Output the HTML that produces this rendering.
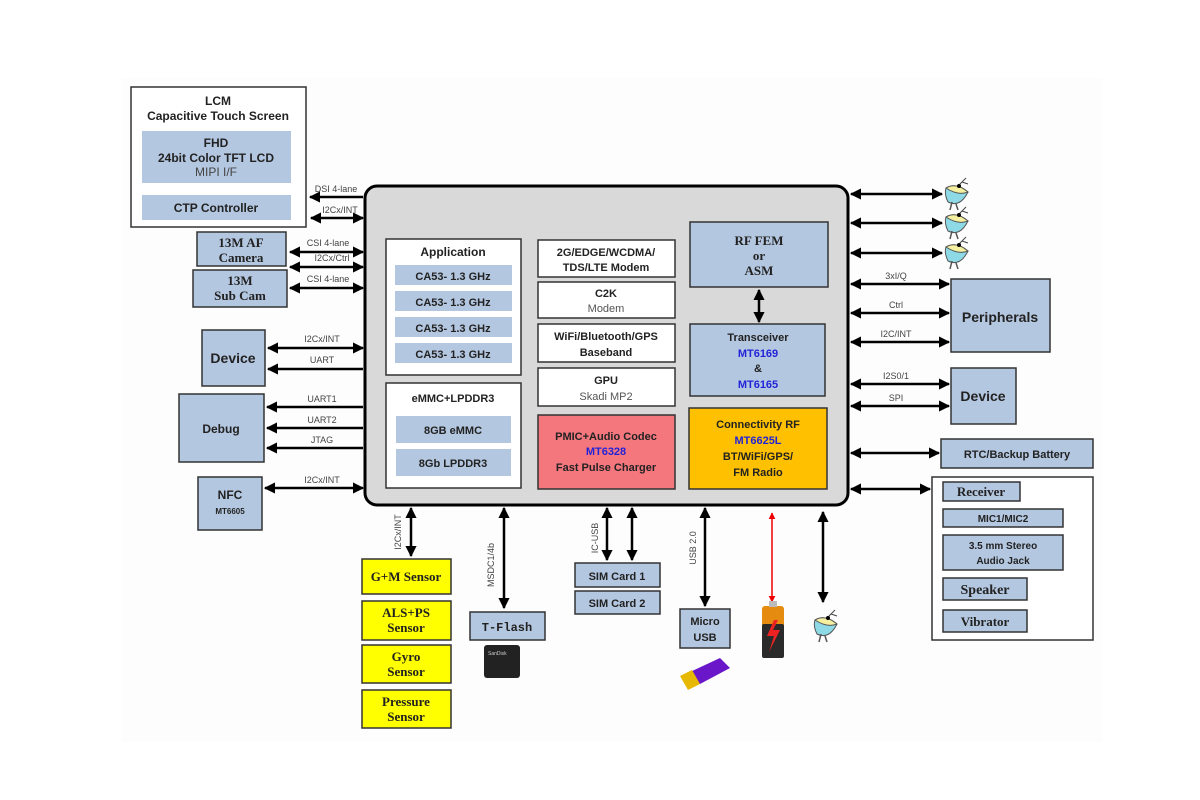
<!DOCTYPE html>
<html><head><meta charset="utf-8"><style>
html,body{margin:0;padding:0;background:#fff;}
svg{display:block;}
</style></head><body>
<svg width="1200" height="800" viewBox="0 0 1200 800" xmlns="http://www.w3.org/2000/svg" font-family="Liberation Sans, sans-serif">
<defs>
<marker id="a" viewBox="0 0 10 10" refX="9" refY="5" markerWidth="4.5" markerHeight="4.5" orient="auto-start-reverse"><path d="M0,0L10,5L0,10z" fill="#000"/></marker>
<marker id="r" viewBox="0 0 10 10" refX="9" refY="5" markerWidth="4.5" markerHeight="4.5" orient="auto-start-reverse"><path d="M0,0L10,5L0,10z" fill="#e00"/></marker>
<g id="ant">
<line x1="14" y1="6" x2="22" y2="-2" stroke="#444" stroke-width="1"/>
<line x1="18" y1="2" x2="24" y2="4" stroke="#444" stroke-width="1"/>
<path d="M2,8 Q12,2 24,12 Q16,28 4,22 Q0,14 2,8z" fill="#8dd9e6" stroke="#555" stroke-width="1"/>
<path d="M2,8 Q12,2 24,12 Q14,16 2,8z" fill="#f4f0a0" stroke="#555" stroke-width="1"/>
<circle cx="15" cy="6" r="2" fill="#000"/>
<path d="M8,22 L6,30 M12,24 L14,30" stroke="#555" stroke-width="1.5" fill="none"/>
</g>
</defs>
<rect x="122" y="78" width="980" height="664" fill="#fdfdfd"/>

<g stroke="#333" stroke-width="1.5">
<rect x="131" y="87" width="175" height="140" fill="#fff"/>
<rect x="142" y="131" width="149" height="52" fill="#b4c7e0" stroke="none"/>
<rect x="142" y="195" width="149" height="25" fill="#b4c7e0" stroke="none"/>
<rect x="197" y="232" width="89" height="34" fill="#b4c7e0"/>
<rect x="193" y="270" width="94" height="37" fill="#b4c7e0"/>
<rect x="202" y="330" width="63" height="56" fill="#b4c7e0"/>
<rect x="179" y="394" width="85" height="68" fill="#b4c7e0"/>
<rect x="198" y="477" width="64" height="53" fill="#b4c7e0"/>
<rect x="365" y="186" width="483" height="319" rx="12" fill="#d9d9d9" stroke="#000" stroke-width="3"/>
<rect x="386" y="239" width="135" height="136" fill="#fff"/>
<rect x="386" y="383" width="135" height="105" fill="#fff"/>
<rect x="538" y="240" width="137" height="37" fill="#fff"/>
<rect x="538" y="282" width="137" height="36" fill="#fff"/>
<rect x="538" y="324" width="137" height="38" fill="#fff"/>
<rect x="538" y="368" width="137" height="38" fill="#fff"/>
<rect x="538" y="415" width="137" height="74" fill="#f4777e"/>
<rect x="690" y="222" width="138" height="65" fill="#b4c7e0"/>
<rect x="690" y="324" width="135" height="72" fill="#b4c7e0"/>
<rect x="689" y="408" width="138" height="81" fill="#ffc000"/>
<rect x="951" y="279" width="99" height="73" fill="#b4c7e0"/>
<rect x="951" y="368" width="65" height="56" fill="#b4c7e0"/>
<rect x="941" y="439" width="152" height="29" fill="#b4c7e0"/>
<rect x="932" y="477" width="161" height="163" fill="#fff"/>
<rect x="943" y="482" width="77" height="19" fill="#b4c7e0"/>
<rect x="943" y="509" width="120" height="18" fill="#b4c7e0"/>
<rect x="943" y="535" width="120" height="35" fill="#b4c7e0"/>
<rect x="943" y="578" width="84" height="22" fill="#b4c7e0"/>
<rect x="943" y="610" width="84" height="22" fill="#b4c7e0"/>
<rect x="362" y="559" width="89" height="35" fill="#ffff00"/>
<rect x="362" y="601" width="89" height="39" fill="#ffff00"/>
<rect x="362" y="645" width="89" height="38" fill="#ffff00"/>
<rect x="362" y="690" width="89" height="38" fill="#ffff00"/>
<rect x="470" y="612" width="75" height="28" fill="#b4c7e0"/>
<rect x="575" y="563" width="85" height="24" fill="#b4c7e0"/>
<rect x="575" y="591" width="85" height="23" fill="#b4c7e0"/>
<rect x="680" y="609" width="50" height="39" fill="#b4c7e0"/>
</g>
<g stroke="none">
<rect x="395" y="265" width="117" height="20" fill="#b4c7e0"/>
<rect x="395" y="291" width="117" height="20" fill="#b4c7e0"/>
<rect x="395" y="317" width="117" height="20" fill="#b4c7e0"/>
<rect x="395" y="343" width="117" height="20" fill="#b4c7e0"/>
<rect x="396" y="416" width="115" height="27" fill="#b4c7e0"/>
<rect x="396" y="449" width="115" height="27" fill="#b4c7e0"/>
</g>

<g stroke="#000" stroke-width="2.5" fill="none">
<line x1="363" y1="197" x2="310" y2="197" marker-end="url(#a)"/>
<line x1="311" y1="218" x2="363" y2="218" marker-start="url(#a)" marker-end="url(#a)"/>
<line x1="290" y1="252" x2="363" y2="252" marker-start="url(#a)" marker-end="url(#a)"/>
<line x1="290" y1="267" x2="363" y2="267" marker-start="url(#a)" marker-end="url(#a)"/>
<line x1="290" y1="288" x2="363" y2="288" marker-start="url(#a)" marker-end="url(#a)"/>
<line x1="268" y1="348" x2="363" y2="348" marker-start="url(#a)" marker-end="url(#a)"/>
<line x1="363" y1="369" x2="268" y2="369" marker-end="url(#a)"/>
<line x1="363" y1="407" x2="267" y2="407" marker-end="url(#a)"/>
<line x1="363" y1="428" x2="267" y2="428" marker-end="url(#a)"/>
<line x1="363" y1="448" x2="267" y2="448" marker-end="url(#a)"/>
<line x1="265" y1="488" x2="363" y2="488" marker-start="url(#a)" marker-end="url(#a)"/>
<line x1="851" y1="194" x2="942" y2="194" marker-start="url(#a)" marker-end="url(#a)"/>
<line x1="851" y1="223" x2="942" y2="223" marker-start="url(#a)" marker-end="url(#a)"/>
<line x1="851" y1="253" x2="942" y2="253" marker-start="url(#a)" marker-end="url(#a)"/>
<line x1="851" y1="284" x2="949" y2="284" marker-start="url(#a)" marker-end="url(#a)"/>
<line x1="851" y1="313" x2="949" y2="313" marker-start="url(#a)" marker-end="url(#a)"/>
<line x1="851" y1="342" x2="949" y2="342" marker-start="url(#a)" marker-end="url(#a)"/>
<line x1="851" y1="384" x2="949" y2="384" marker-start="url(#a)" marker-end="url(#a)"/>
<line x1="851" y1="406" x2="949" y2="406" marker-start="url(#a)" marker-end="url(#a)"/>
<line x1="851" y1="453" x2="939" y2="453" marker-start="url(#a)" marker-end="url(#a)"/>
<line x1="851" y1="489" x2="930" y2="489" marker-start="url(#a)" marker-end="url(#a)"/>
<line x1="759" y1="290" x2="759" y2="322" marker-start="url(#a)" marker-end="url(#a)"/>
<line x1="411" y1="508" x2="411" y2="556" marker-start="url(#a)" marker-end="url(#a)"/>
<line x1="504" y1="508" x2="504" y2="608" marker-start="url(#a)" marker-end="url(#a)"/>
<line x1="607" y1="508" x2="607" y2="560" marker-start="url(#a)" marker-end="url(#a)"/>
<line x1="632" y1="508" x2="632" y2="560" marker-start="url(#a)" marker-end="url(#a)"/>
<line x1="705" y1="508" x2="705" y2="606" marker-start="url(#a)" marker-end="url(#a)"/>
<line x1="823" y1="512" x2="823" y2="602" marker-start="url(#a)" marker-end="url(#a)"/>
</g>
<line x1="772" y1="513" x2="772" y2="602" stroke="#e00" stroke-width="1.5" marker-start="url(#r)" marker-end="url(#r)"/>

<use href="#ant" x="944" y="180"/>
<use href="#ant" x="944" y="209"/>
<use href="#ant" x="944" y="239"/>
<use href="#ant" x="813" y="612"/>
<rect x="762" y="606" width="22" height="52" rx="3" fill="#e58b10"/>
<rect x="762" y="624" width="22" height="34" rx="2" fill="#2a2a2a"/>
<rect x="769" y="601" width="8" height="6" fill="#bbb"/>
<path d="M774,620 L767,636 L774,636 L769,652 L780,630 L773,630 L778,620z" fill="#e22"/>
<rect x="484" y="645" width="36" height="33" rx="3" fill="#222"/>
<text x="488" y="655" font-size="5" fill="#ccc">SanDisk</text>
<path d="M690,672 L720,658 L730,668 L700,684z" fill="#6a17c9"/>
<path d="M680,676 L692,670 L700,684 L688,690z" fill="#e6b800"/>

<g font-weight="bold" font-size="12" fill="#222" text-anchor="middle">
<text x="218" y="105">LCM</text>
<text x="218" y="120">Capacitive Touch Screen</text>
<text x="216" y="147">FHD</text>
<text x="216" y="162">24bit Color TFT LCD</text>
<text x="216" y="176" font-weight="normal" fill="#444">MIPI I/F</text>
<text x="216" y="212">CTP Controller</text>
<g font-family="Liberation Serif, serif" font-size="13">
<text x="241" y="247">13M AF</text>
<text x="241" y="262">Camera</text>
<text x="240" y="285">13M</text>
<text x="240" y="300">Sub Cam</text>
</g>
<text x="233" y="363" font-size="14">Device</text>
<text x="221" y="433">Debug</text>
<text x="230" y="499">NFC</text>
<text x="230" y="514" font-size="8">MT6605</text>

<text x="453" y="256">Application</text>
<text x="453" y="280" font-size="11">CA53- 1.3 GHz</text>
<text x="453" y="306" font-size="11">CA53- 1.3 GHz</text>
<text x="453" y="332" font-size="11">CA53- 1.3 GHz</text>
<text x="453" y="358" font-size="11">CA53- 1.3 GHz</text>
<text x="453" y="402" font-size="11">eMMC+LPDDR3</text>
<text x="453" y="434" font-size="11">8GB eMMC</text>
<text x="453" y="467" font-size="11">8Gb LPDDR3</text>

<text x="606" y="256" font-size="11">2G/EDGE/WCDMA/</text>
<text x="606" y="271" font-size="11">TDS/LTE Modem</text>
<text x="606" y="297" font-size="11">C2K</text>
<text x="606" y="312" font-size="11" font-weight="normal" fill="#555">Modem</text>
<text x="606" y="340" font-size="11">WiFi/Bluetooth/GPS</text>
<text x="606" y="356" font-size="11">Baseband</text>
<text x="606" y="384" font-size="11">GPU</text>
<text x="606" y="400" font-size="11" font-weight="normal" fill="#555">Skadi MP2</text>
<text x="606" y="440" font-size="11">PMIC+Audio Codec</text>
<text x="606" y="455" font-size="11" fill="#2323d8">MT6328</text>
<text x="606" y="471" font-size="11">Fast Pulse Charger</text>

<g font-family="Liberation Serif, serif" font-size="13">
<text x="759" y="245">RF FEM</text>
<text x="759" y="260">or</text>
<text x="759" y="275">ASM</text>
</g>
<text x="758" y="341" font-size="11">Transceiver</text>
<text x="758" y="357" font-size="11" fill="#2323d8">MT6169</text>
<text x="758" y="372" font-size="11">&amp;</text>
<text x="758" y="388" font-size="11" fill="#2323d8">MT6165</text>
<text x="758" y="428" font-size="11">Connectivity RF</text>
<text x="758" y="444" font-size="11" fill="#2323d8">MT6625L</text>
<text x="758" y="460" font-size="11">BT/WiFi/GPS/</text>
<text x="758" y="476" font-size="11">FM Radio</text>

<text x="1000" y="322" font-size="14">Peripherals</text>
<text x="983" y="401" font-size="14">Device</text>
<text x="1017" y="458" font-size="11">RTC/Backup Battery</text>
<text x="981" y="496" font-size="13" font-family="Liberation Serif, serif">Receiver</text>
<text x="1003" y="522" font-size="10">MIC1/MIC2</text>
<text x="1003" y="549" font-size="10">3.5 mm Stereo</text>
<text x="1003" y="564" font-size="10">Audio Jack</text>
<text x="985" y="594" font-size="14" font-family="Liberation Serif, serif">Speaker</text>
<text x="985" y="626" font-size="13" font-family="Liberation Serif, serif">Vibrator</text>

<g font-family="Liberation Serif, serif" font-size="13">
<text x="406" y="581">G+M Sensor</text>
<text x="406" y="617">ALS+PS</text>
<text x="406" y="632">Sensor</text>
<text x="406" y="661">Gyro</text>
<text x="406" y="676">Sensor</text>
<text x="406" y="706">Pressure</text>
<text x="406" y="721">Sensor</text>
</g>
<text x="507" y="631" font-family="Liberation Mono, monospace">T-Flash</text>
<text x="617" y="580" font-size="11">SIM Card 1</text>
<text x="617" y="607" font-size="11">SIM Card 2</text>
<text x="705" y="625" font-size="11">Micro</text>
<text x="705" y="641" font-size="11">USB</text>
</g>

<g font-size="9" fill="#444" text-anchor="middle">
<text x="336" y="192">DSI 4-lane</text>
<text x="340" y="213">I2Cx/INT</text>
<text x="328" y="246">CSI 4-lane</text>
<text x="332" y="261">I2Cx/Ctrl</text>
<text x="328" y="282">CSI 4-lane</text>
<text x="322" y="342">I2Cx/INT</text>
<text x="322" y="363">UART</text>
<text x="322" y="402">UART1</text>
<text x="322" y="423">UART2</text>
<text x="322" y="443">JTAG</text>
<text x="322" y="483">I2Cx/INT</text>
<text x="896" y="279">3xI/Q</text>
<text x="896" y="308">Ctrl</text>
<text x="896" y="337">I2C/INT</text>
<text x="896" y="379">I2S0/1</text>
<text x="896" y="401">SPI</text>
<text transform="translate(401,532) rotate(-90)">I2Cx/INT</text>
<text transform="translate(494,565) rotate(-90)">MSDC1/4b</text>
<text transform="translate(598,538) rotate(-90)">IC-USB</text>
<text transform="translate(696,548) rotate(-90)">USB 2.0</text>
</g>
</svg>
</body></html>
